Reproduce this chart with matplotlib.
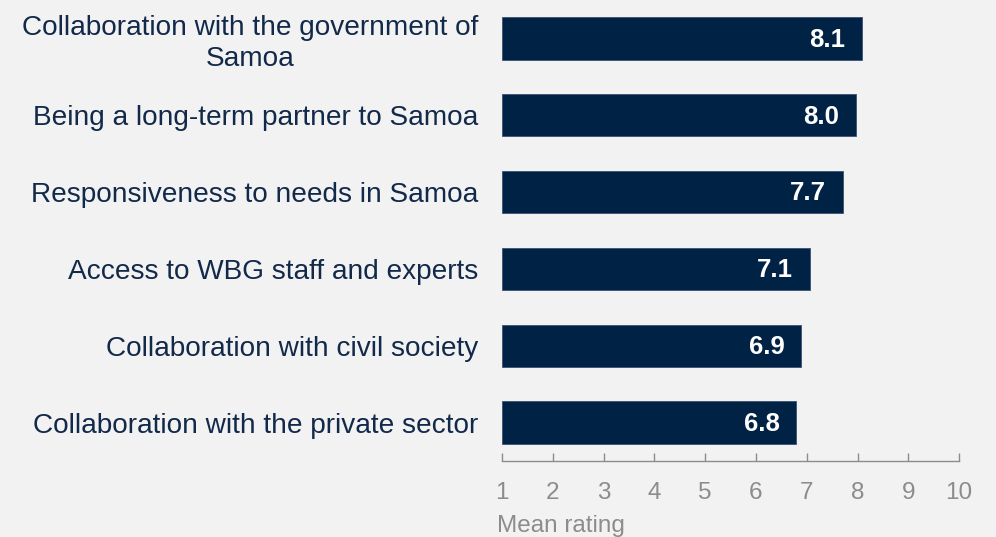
import matplotlib
matplotlib.use("Agg")
import matplotlib.pyplot as plt

categories = [
    "Collaboration with the government of\nSamoa",
    "Being a long-term partner to Samoa",
    "Responsiveness to needs in Samoa",
    "Access to WBG staff and experts",
    "Collaboration with civil society",
    "Collaboration with the private sector",
]
ratings = [8.09, 7.97, 7.71, 7.06, 6.89, 6.79]
xticks = [1, 2, 3, 4, 5, 6, 7, 8, 9, 10]

bg = "#f2f2f2"
navy = "#002245"
label_col = "#12294a"
gray = "#8c8c8c"

plt.rcParams["font.family"] = ["Liberation Sans", "DejaVu Sans"]

fig = plt.figure(figsize=(9.96, 5.37), dpi=100, facecolor=bg)
ax = fig.add_axes([0.504, 0.1415, 0.459, 0.8585], facecolor=bg)

pos = list(range(len(categories)))
ax.barh(pos, [r - 1 for r in ratings], left=1, height=0.55, color=navy,
        edgecolor="#3b5272", linewidth=0.6)

for p, r in zip(pos, ratings):
    ax.annotate(f"{r:.1f}", xy=(r, p), xytext=(-12, -1), textcoords="offset points",
                ha="right", va="center", color="white", fontsize=18.5, fontweight="bold")

ax.set_xlim(1, 10)
ax.set_ylim(5.5, -0.5)
ax.set_yticks(pos)
ax.set_yticklabels(categories, fontsize=20.2, color=label_col, multialignment="center",
                   linespacing=1.25)
ax.tick_params(axis="y", length=0, pad=17)
ax.set_xticks(xticks)
ax.set_xticklabels([str(t) for t in xticks], fontsize=17.5, color=gray)
ax.tick_params(axis="x", direction="in", length=6, width=1, color=gray, pad=15)

for s in ["top", "right", "left"]:
    ax.spines[s].set_visible(False)
ax.spines["bottom"].set_color(gray)
ax.spines["bottom"].set_linewidth(1)

ax.set_xlabel("Mean rating", loc="left", fontsize=17.5, color=gray, labelpad=8)
ax.xaxis.label.set_x(-0.01)

fig.savefig("out.png", dpi=100, facecolor=bg)
